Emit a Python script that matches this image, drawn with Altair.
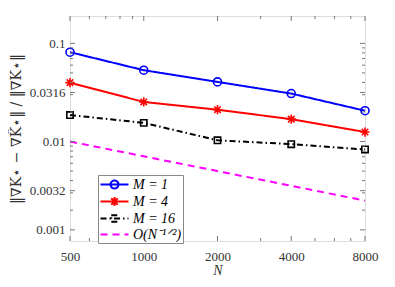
import altair as alt
import pandas as pd

N = [500, 1000, 2000, 4000, 8000]
m1 = [0.0813, 0.0533, 0.0405, 0.0308, 0.0206]
m4 = [0.0398, 0.0253, 0.0211, 0.0169, 0.0125]
m16 = [0.0186, 0.0155, 0.0103, 0.0094, 0.0083]
ref = [0.01, 0.00707, 0.005, 0.00354, 0.0025]
series = ["M = 1", "M = 4", "M = 16", "O(N⁻¹ᐟ²)"]
colors = ["#0000ff", "#ff0000", "#000000", "#ff00ff"]
y_ticks = [0.00126, 0.00316, 0.01, 0.0316, 0.1]
y_tick_labels = ["0.001", "0.0032", "0.01", "0.0316", "0.1"]
x_ticks = [500, 1000, 2000, 4000, 8000]
x_minor = [600, 700, 800, 900, 3000, 5000, 6000, 7000]
y_minor = [0.002, 0.003, 0.004, 0.005, 0.006, 0.007, 0.008, 0.009,
           0.02, 0.03, 0.04, 0.05, 0.06, 0.07, 0.08, 0.09]

rows = []
for name, vals in zip(series, [m1, m4, m16, ref]):
    for n, v in zip(N, vals):
        rows.append({"N": n, "value": v, "series": name})
df = pd.DataFrame(rows)

W, H = 295, 225
serif = "Liberation Serif"
tick_col = "#333333"
frame_col = "#8a8a8a"
tcol = "#777777"

label_expr = ""
for v, t in zip(y_ticks, y_tick_labels):
    label_expr += f"abs(datum.value - {v}) < {v * 0.01} ? '{t}' : "
label_expr += "''"

xs = alt.Scale(type="log", domain=[500, 8000], nice=False)
ys = alt.Scale(type="log", domain=[0.00097, 0.19], nice=False)
color_scale = alt.Scale(domain=series, range=colors)
dash_scale = alt.Scale(domain=series, range=[[1, 0], [1, 0], [6, 3, 1.5, 3], [7, 5]])

line_p = "M-1.93,0L1.93,0"
circ_p = "M0.55,0A0.55,0.55,0,1,1,-0.55,0A0.55,0.55,0,1,1,0.55,0"
ast_p = "M-0.62,0L0.62,0M0,-0.62L0,0.62M-0.44,-0.44L0.44,0.44M-0.44,0.44L0.44,-0.44"
sq_p = "M-0.45,-0.45L0.45,-0.45L0.45,0.45L-0.45,0.45Z"
shape_scale = alt.Scale(domain=series, range=[line_p + circ_p, line_p + ast_p, line_p + sq_p, line_p])

base = alt.Chart(df)

y_title = "‖∇K⋆ − ∇K̂⋆‖ / ‖∇K⋆‖"

leg_def = alt.Legend(title=None)

lines = base.mark_line(strokeWidth=2).encode(
    x=alt.X("N:Q", scale=xs, title="N", axis=alt.Axis(
        values=x_ticks, format="d", orient="bottom", ticks=False, tickSize=0,
        domain=False, grid=False,
        labelFont=serif, labelFontSize=13, labelColor=tick_col, labelPadding=9,
        titleFont=serif, titleFontStyle="italic", titleFontWeight="normal", titleFontSize=14,
        titleColor=tick_col, titlePadding=0, labelFlush=False)),
    y=alt.Y("value:Q", scale=ys, title=y_title, axis=alt.Axis(
        values=y_ticks, labelExpr=label_expr, orient="left", ticks=False, tickSize=0,
        domain=False, grid=False, labelFont=serif, labelFontSize=13, labelColor=tick_col,
        labelPadding=5, titleFont="DejaVu Serif", titleFontWeight="normal", titleFontSize=14,
        titleColor=tick_col, titlePadding=6)),
    color=alt.Color("series:N", scale=color_scale, legend=leg_def),
    strokeDash=alt.StrokeDash("series:N", scale=dash_scale, legend=leg_def),
    detail="series:N",
)

def pts(name, shape, size, color):
    return base.transform_filter(alt.datum.series == name).mark_point(
        shape=shape, size=size, filled=False, strokeWidth=1.6, color=color, opacity=1
    ).encode(x=alt.X("N:Q", scale=xs, axis=None), y=alt.Y("value:Q", scale=ys, axis=None))

p1 = pts(series[0], "circle", 64, colors[0])
p2 = pts(series[1], "M-1,0L1,0M0,-1L0,1M-0.7,-0.7L0.7,0.7M-0.7,0.7L0.7,-0.7", 85, colors[1])
p3 = pts(series[2], "square", 40, colors[2])

leg = base.mark_point(filled=False, strokeWidth=2, size=210, opacity=0).encode(
    x=alt.X("N:Q", scale=xs, axis=None),
    y=alt.Y("value:Q", scale=ys, axis=None),
    color=alt.Color("series:N", scale=color_scale, legend=leg_def),
    shape=alt.Shape("series:N", scale=shape_scale, legend=leg_def),
    strokeDash=alt.StrokeDash("series:N", scale=dash_scale, legend=leg_def),
)

# inward tick marks on all four sides, placed through the scales
xt_major = pd.DataFrame({"t": x_ticks})
xt_minor = pd.DataFrame({"t": x_minor})
yt_major = pd.DataFrame({"t": y_ticks})
yt_minor = pd.DataFrame({"t": y_minor})

def xticks(d, ln):
    bottom = alt.Chart(d).mark_rule(color=tcol, strokeWidth=1).encode(
        x=alt.X("t:Q", scale=xs, axis=None), y=alt.value(H), y2=alt.value(H - ln))
    top = alt.Chart(d).mark_rule(color=tcol, strokeWidth=1).encode(
        x=alt.X("t:Q", scale=xs, axis=None), y=alt.value(0), y2=alt.value(ln))
    return [bottom, top]

def yticks(d, ln):
    left = alt.Chart(d).mark_rule(color=tcol, strokeWidth=1).encode(
        y=alt.Y("t:Q", scale=ys, axis=None), x=alt.value(0), x2=alt.value(ln))
    right = alt.Chart(d).mark_rule(color=tcol, strokeWidth=1).encode(
        y=alt.Y("t:Q", scale=ys, axis=None), x=alt.value(W), x2=alt.value(W - ln))
    return [left, right]

tick_layers = xticks(xt_major, 5) + xticks(xt_minor, 3) + yticks(yt_major, 5) + yticks(yt_minor, 3)

chart = alt.layer(lines, p1, p2, p3, leg, *tick_layers).resolve_axis(
    x="independent", y="independent"
).properties(
    width=W, height=H,
    autosize=alt.AutoSizeParams(type="none"),
    padding={"left": 62, "top": 8, "right": 22, "bottom": 38},
).configure_view(stroke=frame_col, strokeWidth=1).configure(background="#ffffff").configure_legend(
    orient="none", legendX=28, legendY=159, padding=1, symbolSize=210,
    symbolStrokeWidth=2, symbolOffset=7, labelOffset=10, rowPadding=0, symbolOpacity=1,
    labelFont=serif, labelFontStyle="italic", labelFontSize=14, labelColor="#000000",
    fillColor="#ffffff", strokeColor=frame_col, cornerRadius=0, symbolFillColor="transparent")

chart.save("out.html", embed_options={"renderer": "svg", "actions": False})
